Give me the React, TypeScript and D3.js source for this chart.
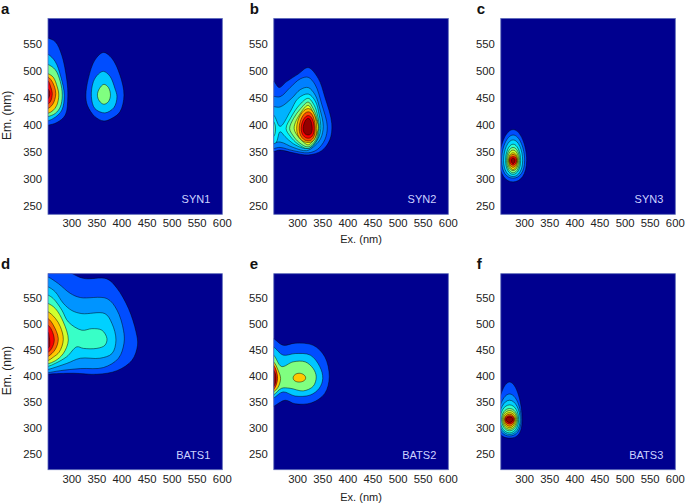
import React from "react";
import * as d3 from "d3";

type Pt = [number, number];
type Ring = [number, Pt[]];

const xTicks = [300, 350, 400, 450, 500, 550, 600];
const yTicks = [250, 300, 350, 400, 450, 500, 550];
const exDomain = [252.5, 600];
const emDomainTop = [234, 597];
const emDomainBottom = [219, 597];

const synOneRings: Ring[] = [
  [0.2, [[235, 566], [252, 561], [267, 554], [280, 529], [290, 483], [292, 452], [287, 418], [270, 404], [252, 399], [235, 396]]],
  [0.32, [[235, 535], [252, 531], [267, 517], [278, 489], [285, 455], [280, 427], [267, 414], [252, 407], [235, 404]]],
  [0.49, [[235, 516], [252, 512], [267, 502], [277, 480], [281, 455], [277, 433], [267, 421], [252, 415], [235, 412]]],
  [0.68, [[235, 499], [252, 495], [263, 488], [271, 470], [274, 455], [270, 436], [262, 426], [252, 421], [235, 418]]],
  [0.78, [[235, 493], [252, 489], [262, 478], [268, 458], [262, 438], [252, 430], [235, 427]]],
  [0.88, [[235, 486], [252, 482], [258, 470], [261, 458], [258, 444], [252, 438], [235, 435]]],
  [0.98, [[235, 471], [252, 467], [256, 458], [252, 448], [235, 445]]],
  [0.2, [[363, 534], [380, 523], [396, 492], [404, 455], [396, 424], [380, 412], [364, 407], [346, 415], [331, 436], [328, 455], [333, 486], [346, 520]]],
  [0.32, [[363, 499], [376, 490], [386, 467], [390, 452], [384, 432], [366, 422], [346, 430], [339, 452], [343, 480], [353, 494]]],
  [0.5, [[364, 475], [373, 469], [377, 455], [373, 443], [364, 438], [355, 444], [351, 455], [355, 467]]],
];

const synTwoRings: Ring[] = [
  [0.2, [[240, 483], [252, 481], [263, 469], [278, 480], [301, 494], [321, 506], [341, 486], [354, 452], [368, 402], [364, 372], [348, 352], [321, 344], [291, 348], [265, 353], [240, 350]]],
  [0.25, [[240, 452], [265, 452], [285, 469], [305, 485], [321, 488], [335, 474], [348, 438], [359, 397], [354, 372], [339, 354], [321, 348], [291, 352], [265, 358], [240, 356]]],
  [0.3, [[240, 433], [265, 433], [288, 449], [305, 465], [321, 469], [335, 455], [344, 430], [351, 397], [346, 375], [335, 362], [318, 352], [291, 358], [265, 368], [240, 366]]],
  [0.36, [[240, 420], [252, 418], [265, 397], [285, 424], [301, 449], [321, 457], [335, 444], [343, 418], [346, 393], [341, 375], [328, 359], [315, 356], [291, 365], [275, 378], [265, 387], [256, 366], [240, 366]]],
  [0.44, [[321, 449], [333, 436], [340, 416], [343, 393], [338, 372], [321, 356], [301, 364], [285, 379], [277, 393], [287, 414], [303, 436]]],
  [0.44, [[240, 410], [252, 406], [256, 392], [252, 378], [240, 376]]],
  [0.52, [[321, 442], [331, 430], [339, 410], [341, 393], [336, 372], [321, 359], [303, 367], [290, 381], [284, 393], [292, 412], [306, 430]]],
  [0.6, [[321, 436], [330, 424], [341, 393], [322, 363], [307, 372], [293, 393], [306, 422]]],
  [0.7, [[321, 430], [338, 393], [321, 367], [298, 393]]],
  [0.8, [[321, 424], [335, 393], [321, 370], [303, 393]]],
  [0.88, [[321, 417], [333, 393], [321, 375], [307, 393]]],
  [0.98, [[321, 412], [329, 393], [321, 381], [311, 393]]],
];

const synThreeRings: Ring[] = [
  [0.2, [[277, 391], [304, 334], [277, 294], [250, 334]]],
  [0.27, [[277, 381], [300, 334], [277, 301], [254, 334]]],
  [0.34, [[277, 372], [296, 334], [277, 304], [258, 334]]],
  [0.42, [[277, 364], [292, 334], [277, 308], [262, 334]]],
  [0.5, [[277, 358], [290, 334], [277, 311], [264, 334]]],
  [0.58, [[277, 353], [288, 334], [277, 315], [266, 334]]],
  [0.66, [[277, 348], [286, 334], [277, 317], [268, 334]]],
  [0.76, [[277, 345], [285, 334], [277, 321], [269, 334]]],
  [0.87, [[277, 341], [284, 334], [277, 325], [270, 334]]],
  [0.98, [[277, 338], [281, 334], [277, 328], [273, 334]]],
];

const batsOneRings: Ring[] = [
  [0.2, [[240, 625], [293, 601], [323, 588], [370, 587], [390, 569], [413, 530], [428, 485], [431, 459], [420, 430], [390, 410], [350, 403], [303, 405], [252, 403], [235, 400]]],
  [0.27, [[235, 596], [252, 591], [273, 578], [297, 559], [317, 551], [370, 549], [390, 527], [403, 488], [404, 463], [393, 434], [363, 416], [317, 414], [277, 410], [252, 406], [235, 404]]],
  [0.33, [[235, 577], [252, 572], [267, 562], [283, 540], [300, 526], [320, 520], [366, 520], [380, 501], [388, 469], [380, 443], [356, 434], [317, 434], [290, 424], [252, 412], [235, 408]]],
  [0.43, [[235, 561], [252, 556], [263, 549], [280, 527], [293, 504], [320, 488], [340, 491], [360, 488], [370, 472], [366, 459], [350, 453], [323, 453], [310, 456], [290, 437], [267, 424], [252, 418], [235, 415]]],
  [0.58, [[235, 545], [252, 540], [267, 530], [283, 504], [293, 469], [283, 443], [267, 429], [252, 423], [235, 419]]],
  [0.68, [[235, 529], [252, 524], [267, 511], [277, 495], [283, 470], [275, 446], [263, 436], [252, 429], [235, 425]]],
  [0.78, [[235, 516], [252, 511], [263, 498], [273, 472], [267, 451], [252, 437], [235, 432]]],
  [0.88, [[235, 503], [252, 498], [260, 488], [265, 469], [260, 453], [252, 445], [235, 440]]],
  [0.96, [[235, 490], [252, 485], [255, 474], [256, 466], [255, 456], [252, 453], [235, 448]]],
];

const batsTwoRings: Ring[] = [
  [0.2, [[235, 480], [252, 472], [271, 459], [295, 463], [331, 459], [354, 437], [363, 398], [354, 366], [328, 348], [295, 346], [275, 353], [252, 341], [235, 334]]],
  [0.32, [[235, 464], [252, 456], [271, 440], [295, 443], [325, 440], [344, 418], [350, 395], [343, 376], [325, 363], [295, 361], [271, 369], [252, 357], [235, 349]]],
  [0.5, [[235, 448], [252, 440], [268, 418], [291, 427], [315, 427], [331, 414], [337, 398], [331, 380], [311, 371], [285, 376], [268, 376], [252, 363], [235, 355]]],
  [0.68, [[303, 405], [316, 396], [303, 388], [291, 396]]],
  [0.68, [[235, 435], [252, 427], [261, 411], [266, 395], [261, 378], [252, 369], [235, 361]]],
  [0.85, [[235, 430], [252, 421], [260, 395], [252, 373], [235, 364]]],
  [0.98, [[235, 420], [252, 411], [257, 395], [252, 379], [235, 372]]],
];

const batsThreeRings: Ring[] = [
  [0.2, [[270, 388], [295, 316], [270, 280], [245, 316]]],
  [0.27, [[270, 365], [293, 316], [270, 284], [247, 316]]],
  [0.33, [[270, 353], [291, 316], [270, 287], [249, 316]]],
  [0.42, [[270, 344], [288, 316], [270, 290], [251, 316]]],
  [0.5, [[270, 337], [286, 316], [270, 294], [254, 316]]],
  [0.58, [[270, 333], [284, 316], [270, 297], [256, 316]]],
  [0.66, [[270, 329], [282, 316], [270, 300], [258, 316]]],
  [0.76, [[270, 326], [280, 316], [270, 303], [260, 316]]],
  [0.87, [[270, 323], [279, 316], [270, 307], [261, 316]]],
  [0.98, [[270, 321], [277, 316], [270, 310], [263, 316]]],
];

const panelLetters = ["a", "b", "c", "d", "e", "f"];
const panelNames = ["SYN1", "SYN2", "SYN3", "BATS1", "BATS2", "BATS3"];
const panelRings = [synOneRings, synTwoRings, synThreeRings, batsOneRings, batsTwoRings, batsThreeRings];

const jet = d3
  .scaleLinear<string>()
  .domain([0, 0.125, 0.375, 0.625, 0.875, 1])
  .range(["#00008f", "#0000ff", "#00ffff", "#ffff00", "#ff0000", "#800000"])
  .interpolate(d3.interpolateRgb);

const columns = [
  { left: 48, right: 222.3 },
  { left: 273.8, right: 448.3 },
  { left: 500.8, right: 675.3 },
];
const rows = [
  { top: 18.5, bottom: 214.3, domain: emDomainTop, exLabelGap: 29 },
  { top: 273.7, bottom: 469.7, domain: emDomainBottom, exLabelGap: 31 },
];
const font = "'Liberation Sans', Arial, sans-serif";

function Panel({ index }: { index: number }) {
  const col = columns[index % 3];
  const row = rows[Math.floor(index / 3)];
  const x = d3.scaleLinear().domain(exDomain).range([col.left, col.right]);
  const y = d3.scaleLinear().domain(row.domain).range([row.bottom, row.top]);
  const ellipse = d3
    .line<Pt>()
    .x((d) => x(d[0]))
    .y((d) => y(d[1]))
    .curve(d3.curveCardinalClosed.tension(-0.65));
  const outline = d3
    .line<Pt>()
    .x((d) => x(d[0]))
    .y((d) => y(d[1]))
    .curve(d3.curveCatmullRomClosed.alpha(0.5));
  const clipId = `clip-${index}`;
  const width = col.right - col.left;
  const height = row.bottom - row.top;
  return (
    <g fontFamily={font}>
      <clipPath id={clipId}>
        <rect x={col.left} y={row.top} width={width} height={height} />
      </clipPath>
      <rect x={col.left} y={row.top} width={width} height={height} fill="#00008f" />
      <g clipPath={`url(#${clipId})`}>
        {panelRings[index].map(([level, pts], i) => (
          <path
            key={i}
            d={(pts.length === 4 ? ellipse(pts) : outline(pts)) ?? ""}
            fill={jet(level)}
            stroke="#000"
            strokeOpacity={0.8}
            strokeWidth={0.6}
          />
        ))}
      </g>
      <rect x={col.left} y={row.top} width={width} height={height} fill="none" stroke="#5a68b8" strokeWidth={0.8} />
      {xTicks.map((t) => (
        <text key={t} x={x(t)} y={row.bottom + 13} fontSize={11.3} textAnchor="middle" fill="#222">
          {t}
        </text>
      ))}
      {yTicks.map((t) => (
        <text key={t} x={col.left - 6} y={y(t) + 4} fontSize={11.3} textAnchor="end" fill="#222">
          {t}
        </text>
      ))}
      <text x={col.right - 12} y={row.bottom - 11} fontSize={11} textAnchor="end" fill="#ccd2ff">
        {panelNames[index]}
      </text>
      <text x={col.left - (index % 3 === 0 ? 47 : 24)} y={row.top - 5} fontSize={15} fontWeight="bold" fill="#111">
        {panelLetters[index]}
      </text>
      {index % 3 === 0 && (
        <text
          transform={`translate(10.5,${(row.top + row.bottom) / 2 - 1})rotate(-90)`}
          fontSize={12}
          textAnchor="middle"
          fill="#222"
        >
          Em. (nm)
        </text>
      )}
      {index % 3 === 1 && (
        <text x={(col.left + col.right) / 2} y={row.bottom + row.exLabelGap} fontSize={11} textAnchor="middle" fill="#222">
          Ex. (nm)
        </text>
      )}
    </g>
  );
}

export default function App() {
  return (
    <svg
      width={685}
      height={503}
      viewBox="0 0 685 503"
      style={{ position: "absolute", left: 0, top: 0, display: "block", background: "#fff" }}
    >
      {panelNames.map((_, i) => (
        <Panel key={i} index={i} />
      ))}
    </svg>
  );
}
